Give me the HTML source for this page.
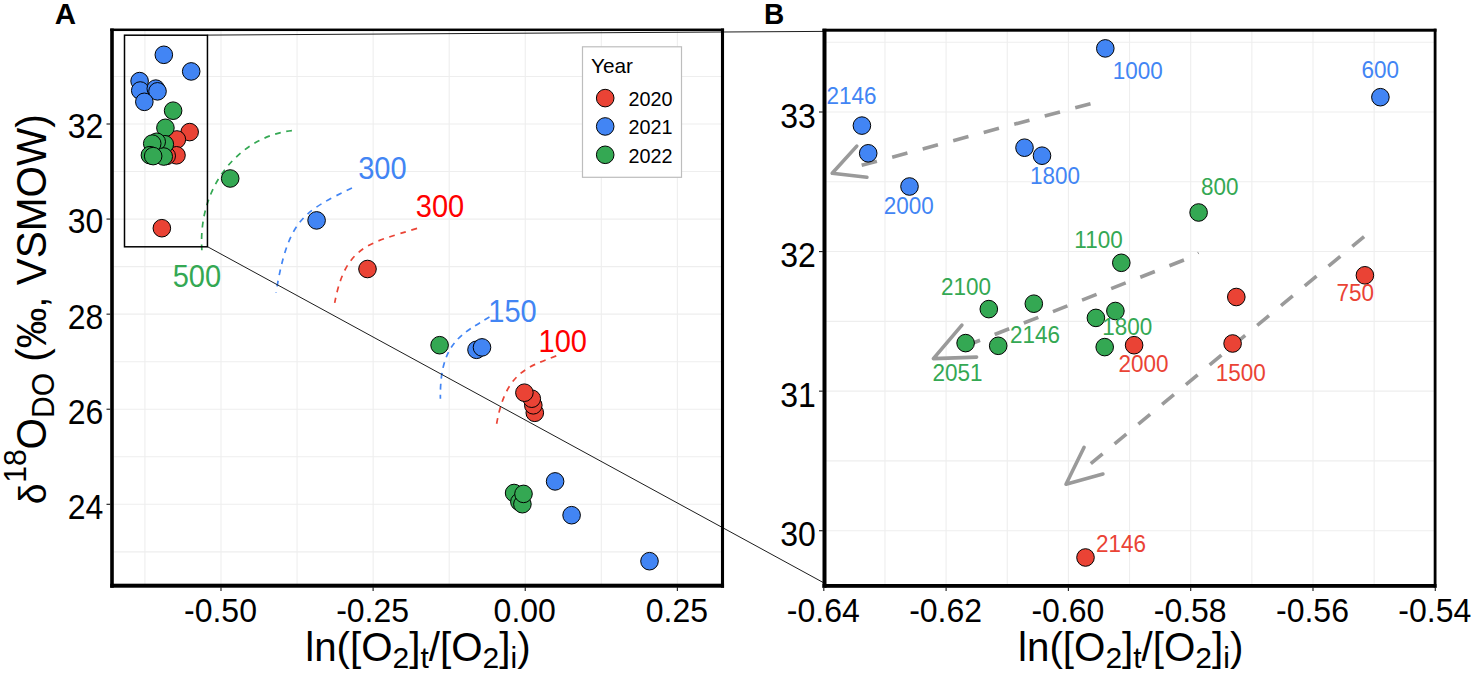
<!DOCTYPE html>
<html><head><meta charset="utf-8"><style>
html,body{margin:0;padding:0;background:#fff;width:1476px;height:673px;overflow:hidden}
svg{display:block}
</style></head><body>
<svg width="1476" height="673" viewBox="0 0 1476 673">
<rect width="1476" height="673" fill="#fff"/>
<g stroke="#EEEEEE" stroke-width="1.1"><line x1="144.94" y1="30" x2="144.94" y2="585.5"/><line x1="221.00" y1="30" x2="221.00" y2="585.5"/><line x1="297.06" y1="30" x2="297.06" y2="585.5"/><line x1="373.12" y1="30" x2="373.12" y2="585.5"/><line x1="449.19" y1="30" x2="449.19" y2="585.5"/><line x1="525.25" y1="30" x2="525.25" y2="585.5"/><line x1="601.31" y1="30" x2="601.31" y2="585.5"/><line x1="677.38" y1="30" x2="677.38" y2="585.5"/><line x1="112" y1="551.86" x2="722.5" y2="551.86"/><line x1="112" y1="504.32" x2="722.5" y2="504.32"/><line x1="112" y1="456.78" x2="722.5" y2="456.78"/><line x1="112" y1="409.24" x2="722.5" y2="409.24"/><line x1="112" y1="361.70" x2="722.5" y2="361.70"/><line x1="112" y1="314.16" x2="722.5" y2="314.16"/><line x1="112" y1="266.62" x2="722.5" y2="266.62"/><line x1="112" y1="219.08" x2="722.5" y2="219.08"/><line x1="112" y1="171.54" x2="722.5" y2="171.54"/><line x1="112" y1="124.00" x2="722.5" y2="124.00"/><line x1="112" y1="76.46" x2="722.5" y2="76.46"/></g>
<g stroke="#EEEEEE" stroke-width="1.1"><line x1="884.95" y1="30" x2="884.95" y2="585.5"/><line x1="946.10" y1="30" x2="946.10" y2="585.5"/><line x1="1007.25" y1="30" x2="1007.25" y2="585.5"/><line x1="1068.40" y1="30" x2="1068.40" y2="585.5"/><line x1="1129.55" y1="30" x2="1129.55" y2="585.5"/><line x1="1190.70" y1="30" x2="1190.70" y2="585.5"/><line x1="1251.85" y1="30" x2="1251.85" y2="585.5"/><line x1="1313.00" y1="30" x2="1313.00" y2="585.5"/><line x1="1374.15" y1="30" x2="1374.15" y2="585.5"/><line x1="824.5" y1="530.71" x2="1435" y2="530.71"/><line x1="824.5" y1="460.92" x2="1435" y2="460.92"/><line x1="824.5" y1="391.14" x2="1435" y2="391.14"/><line x1="824.5" y1="321.36" x2="1435" y2="321.36"/><line x1="824.5" y1="251.57" x2="1435" y2="251.57"/><line x1="824.5" y1="181.78" x2="1435" y2="181.78"/><line x1="824.5" y1="112.00" x2="1435" y2="112.00"/><line x1="824.5" y1="42.22" x2="1435" y2="42.22"/></g>
<path d="M291.90,130.60 C241.28,136.43 197.42,184.10 201.90,250.80" fill="none" stroke="#34A853" stroke-width="1.7" stroke-dasharray="5.8 5.60" stroke-dashoffset="0.07"/>
<path d="M352.40,187.80 C302.62,211.69 288.04,220.03 276.00,292.70" fill="none" stroke="#4285F4" stroke-width="1.7" stroke-dasharray="5.8 5.65" stroke-dashoffset="-0.48"/>
<path d="M417.40,228.30 C368.88,243.31 345.50,245.62 334.70,302.90" fill="none" stroke="#EA4335" stroke-width="1.7" stroke-dasharray="5.8 5.75" stroke-dashoffset="-0.34"/>
<path d="M489.60,316.90 C461.82,333.95 439.47,342.60 440.40,398.80" fill="none" stroke="#4285F4" stroke-width="1.7" stroke-dasharray="5.8 5.15" stroke-dashoffset="-0.17"/>
<path d="M556.70,355.70 C525.14,367.66 504.13,373.79 495.70,429.40" fill="none" stroke="#EA4335" stroke-width="1.7" stroke-dasharray="5.8 5.60" stroke-dashoffset="-0.44"/>
<g stroke="#111" stroke-width="0.95" fill="none">
<line x1="207.5" y1="35.1" x2="823" y2="31.4"/>
<line x1="207.7" y1="246.8" x2="823" y2="582.4"/>
</g>
<rect x="124.5" y="35.2" width="82.95" height="211.6" fill="none" stroke="#000" stroke-width="1.5"/>
<g stroke="#000" stroke-width="1"><circle cx="189.65" cy="132.08" r="8.8" fill="#EA4335"/><circle cx="176.86" cy="139.47" r="8.8" fill="#EA4335"/><circle cx="176.49" cy="155.31" r="8.8" fill="#EA4335"/><circle cx="166.69" cy="155.89" r="8.8" fill="#EA4335"/><circle cx="161.85" cy="228.21" r="8.8" fill="#EA4335"/><circle cx="367.50" cy="269.00" r="8.8" fill="#EA4335"/><circle cx="534.80" cy="412.80" r="8.8" fill="#EA4335"/><circle cx="533.30" cy="405.30" r="8.8" fill="#EA4335"/><circle cx="531.80" cy="398.70" r="8.8" fill="#EA4335"/><circle cx="524.40" cy="392.70" r="8.8" fill="#EA4335"/><circle cx="139.60" cy="81.09" r="8.8" fill="#4285F4"/><circle cx="140.23" cy="90.53" r="8.8" fill="#4285F4"/><circle cx="155.78" cy="88.62" r="8.8" fill="#4285F4"/><circle cx="157.52" cy="91.34" r="8.8" fill="#4285F4"/><circle cx="144.34" cy="101.84" r="8.8" fill="#4285F4"/><circle cx="163.82" cy="54.80" r="8.8" fill="#4285F4"/><circle cx="191.20" cy="71.42" r="8.8" fill="#4285F4"/><circle cx="316.60" cy="220.40" r="8.8" fill="#4285F4"/><circle cx="476.50" cy="349.80" r="8.8" fill="#4285F4"/><circle cx="482.00" cy="347.40" r="8.8" fill="#4285F4"/><circle cx="555.10" cy="481.40" r="8.8" fill="#4285F4"/><circle cx="571.60" cy="515.20" r="8.8" fill="#4285F4"/><circle cx="649.50" cy="561.20" r="8.8" fill="#4285F4"/><circle cx="173.11" cy="110.69" r="8.8" fill="#34A853"/><circle cx="165.41" cy="127.83" r="8.8" fill="#34A853"/><circle cx="162.89" cy="146.59" r="8.8" fill="#34A853"/><circle cx="164.83" cy="144.24" r="8.8" fill="#34A853"/><circle cx="156.71" cy="141.76" r="8.8" fill="#34A853"/><circle cx="152.23" cy="143.60" r="8.8" fill="#34A853"/><circle cx="163.76" cy="156.54" r="8.8" fill="#34A853"/><circle cx="149.92" cy="155.18" r="8.8" fill="#34A853"/><circle cx="153.16" cy="156.10" r="8.8" fill="#34A853"/><circle cx="230.20" cy="178.50" r="8.8" fill="#34A853"/><circle cx="439.60" cy="345.20" r="8.8" fill="#34A853"/><circle cx="514.10" cy="493.00" r="8.8" fill="#34A853"/><circle cx="519.40" cy="501.90" r="8.8" fill="#34A853"/><circle cx="522.40" cy="504.20" r="8.8" fill="#34A853"/><circle cx="523.50" cy="493.90" r="8.8" fill="#34A853"/></g>
<g stroke="#9A9A9A" stroke-width="3.6" fill="none"><path d="M1090.50,103.70L1075.24,107.81M1059.99,111.92L1044.73,116.03M1029.48,120.14L1014.22,124.25M998.96,128.36L983.71,132.48M968.45,136.59L953.20,140.70M937.94,144.81L922.69,148.92M907.43,153.03L892.17,157.14M876.92,161.25L861.66,165.36" stroke-linecap="butt"/><path d="M856.8,146.1 L832.2,173.3 L866.9,177.3" fill="none" stroke-linecap="round" stroke-linejoin="round"/><path d="M1183.95,260.03L1169.43,265.74M1154.82,271.49L1140.30,277.20M1125.69,282.95L1111.18,288.66M1096.57,294.41L1082.05,300.12M1067.44,305.87L1052.92,311.58M1038.31,317.32L1023.80,323.04M1009.19,328.78L994.67,334.49M980.06,340.24L965.54,345.95" stroke-linecap="butt"/><path d="M1197.6,251.9 L1198.8,254.1" stroke-width="1"/><path d="M961.9,325.2 L933.4,358.6 L976.6,357.1" fill="none" stroke-linecap="round" stroke-linejoin="round"/><path d="M1364.08,236.71L1352.31,246.48M1340.31,256.45L1328.54,266.22M1316.54,276.19L1304.77,285.96M1292.76,295.93L1280.99,305.70M1268.99,315.67L1257.22,325.44M1245.22,335.40L1233.44,345.18M1221.44,355.14L1209.67,364.92M1197.67,374.88L1185.90,384.65M1173.89,394.62L1162.12,404.39M1150.12,414.36L1138.35,424.13M1126.35,434.10L1114.57,443.87M1102.57,453.84L1090.80,463.61" stroke-linecap="butt"/><path d="M1084.1,447.3 L1066,484.2 L1102.9,474.1" fill="none" stroke-linecap="round" stroke-linejoin="round"/></g>
<g stroke="#000" stroke-width="1"><circle cx="1364.90" cy="275.30" r="8.8" fill="#EA4335"/><circle cx="1236.30" cy="297.00" r="8.8" fill="#EA4335"/><circle cx="1232.60" cy="343.50" r="8.8" fill="#EA4335"/><circle cx="1134.10" cy="345.20" r="8.8" fill="#EA4335"/><circle cx="1085.50" cy="557.50" r="8.8" fill="#EA4335"/><circle cx="861.90" cy="125.60" r="8.8" fill="#4285F4"/><circle cx="868.20" cy="153.30" r="8.8" fill="#4285F4"/><circle cx="1024.50" cy="147.70" r="8.8" fill="#4285F4"/><circle cx="1042.00" cy="155.70" r="8.8" fill="#4285F4"/><circle cx="909.50" cy="186.50" r="8.8" fill="#4285F4"/><circle cx="1105.30" cy="48.40" r="8.8" fill="#4285F4"/><circle cx="1380.40" cy="97.20" r="8.8" fill="#4285F4"/><circle cx="1198.60" cy="212.50" r="8.8" fill="#34A853"/><circle cx="1121.30" cy="262.80" r="8.8" fill="#34A853"/><circle cx="988.80" cy="309.10" r="8.8" fill="#34A853"/><circle cx="1033.80" cy="303.70" r="8.8" fill="#34A853"/><circle cx="1095.90" cy="317.90" r="8.8" fill="#34A853"/><circle cx="1115.40" cy="311.00" r="8.8" fill="#34A853"/><circle cx="965.60" cy="343.10" r="8.8" fill="#34A853"/><circle cx="998.20" cy="345.80" r="8.8" fill="#34A853"/><circle cx="1104.70" cy="347.10" r="8.8" fill="#34A853"/></g>
<g fill="#000"><rect x="110.2" y="28.5" width="3.60" height="559.20"/><rect x="110.2" y="28.55" width="613.85" height="2.50"/><rect x="720.95" y="28.5" width="3.10" height="559.20"/><rect x="110.2" y="583.7" width="613.85" height="4.00"/><rect x="822.5" y="28.7" width="4.00" height="559.10"/><rect x="822.5" y="28.7" width="614.00" height="3.00"/><rect x="1433.7" y="28.7" width="2.80" height="559.10"/><rect x="822.5" y="584" width="614.00" height="3.80"/></g>
<g stroke="#222" stroke-width="1.15"><line x1="221.00" y1="587" x2="221.00" y2="591"/><line x1="373.12" y1="587" x2="373.12" y2="591"/><line x1="525.25" y1="587" x2="525.25" y2="591"/><line x1="677.38" y1="587" x2="677.38" y2="591"/><line x1="106.5" y1="504.32" x2="110.5" y2="504.32"/><line x1="106.5" y1="409.24" x2="110.5" y2="409.24"/><line x1="106.5" y1="314.16" x2="110.5" y2="314.16"/><line x1="106.5" y1="219.08" x2="110.5" y2="219.08"/><line x1="106.5" y1="124.00" x2="110.5" y2="124.00"/><line x1="823.80" y1="587" x2="823.80" y2="591"/><line x1="946.10" y1="587" x2="946.10" y2="591"/><line x1="1068.40" y1="587" x2="1068.40" y2="591"/><line x1="1190.70" y1="587" x2="1190.70" y2="591"/><line x1="1313.00" y1="587" x2="1313.00" y2="591"/><line x1="1435.30" y1="587" x2="1435.30" y2="591"/><line x1="819" y1="530.71" x2="823" y2="530.71"/><line x1="819" y1="391.14" x2="823" y2="391.14"/><line x1="819" y1="251.57" x2="823" y2="251.57"/><line x1="819" y1="112.00" x2="823" y2="112.00"/></g>
<g font-family="Liberation Sans, sans-serif" font-size="32" fill="#000"><text transform="translate(220.50,622.00) scale(1,1.06)" text-anchor="middle">-0.50</text><text transform="translate(372.62,622.00) scale(1,1.06)" text-anchor="middle">-0.25</text><text transform="translate(524.75,622.00) scale(1,1.06)" text-anchor="middle">0.00</text><text transform="translate(676.88,622.00) scale(1,1.06)" text-anchor="middle">0.25</text><text transform="translate(103.30,518.72) scale(1,1.08)" text-anchor="end">24</text><text transform="translate(103.30,423.64) scale(1,1.08)" text-anchor="end">26</text><text transform="translate(103.30,328.56) scale(1,1.08)" text-anchor="end">28</text><text transform="translate(103.30,233.48) scale(1,1.08)" text-anchor="end">30</text><text transform="translate(103.30,138.40) scale(1,1.08)" text-anchor="end">32</text><text transform="translate(823.30,622.00) scale(1,1.06)" text-anchor="middle">-0.64</text><text transform="translate(945.60,622.00) scale(1,1.06)" text-anchor="middle">-0.62</text><text transform="translate(1067.90,622.00) scale(1,1.06)" text-anchor="middle">-0.60</text><text transform="translate(1190.20,622.00) scale(1,1.06)" text-anchor="middle">-0.58</text><text transform="translate(1312.50,622.00) scale(1,1.06)" text-anchor="middle">-0.56</text><text transform="translate(1434.80,622.00) scale(1,1.06)" text-anchor="middle">-0.54</text><text transform="translate(815.80,546.41) scale(1,1.08)" text-anchor="end">30</text><text transform="translate(815.80,406.84) scale(1,1.08)" text-anchor="end">31</text><text transform="translate(815.80,267.27) scale(1,1.08)" text-anchor="end">32</text><text transform="translate(815.80,127.70) scale(1,1.08)" text-anchor="end">33</text></g>
<g font-family="Liberation Sans, sans-serif" fill="#000"><text x="417.9" y="661" text-anchor="middle" font-size="40.3">ln([O<tspan font-size="30" dy="7">2</tspan><tspan dy="-7">]</tspan><tspan font-size="30" dy="7">t</tspan><tspan dy="-7">/[O</tspan><tspan font-size="30" dy="7">2</tspan><tspan dy="-7">]</tspan><tspan font-size="30" dy="7">i</tspan><tspan dy="-7">)</tspan></text><text x="1130.7" y="661" text-anchor="middle" font-size="40.3">ln([O<tspan font-size="30" dy="7">2</tspan><tspan dy="-7">]</tspan><tspan font-size="30" dy="7">t</tspan><tspan dy="-7">/[O</tspan><tspan font-size="30" dy="7">2</tspan><tspan dy="-7">]</tspan><tspan font-size="30" dy="7">i</tspan><tspan dy="-7">)</tspan></text></g>
<g font-family="Liberation Sans, sans-serif" fill="#000"><text transform="translate(46.4,309.2) rotate(-90) scale(1,1.05)" text-anchor="middle" font-size="40.5"><tspan font-size="37.5">δ</tspan><tspan font-size="30" dy="-19" dx="0.5">18</tspan><tspan dy="19">O</tspan><tspan font-size="30" dy="7">DO</tspan><tspan dy="-7"> (‰, VSMOW)</tspan></text></g>
<g font-family="Liberation Sans, sans-serif" font-weight="bold" font-size="29.5" fill="#000"><text x="54.8" y="24">A</text><text transform="translate(763.9,24) scale(0.95,1)">B</text></g>
<g font-family="Liberation Sans, sans-serif" font-size="29.05"><text transform="translate(221.10,286.60) scale(1,1.06)" text-anchor="end" fill="#34A853">500</text><text transform="translate(358.20,178.60) scale(1,1.06)" fill="#4285F4">300</text><text transform="translate(415.80,217.00) scale(1,1.06)" fill="#FF0000">300</text><text transform="translate(488.30,322.00) scale(1,1.06)" fill="#4285F4">150</text><text transform="translate(538.50,351.60) scale(1,1.06)" fill="#FF0000">100</text></g>
<g font-family="Liberation Sans, sans-serif" font-size="22.5"><text transform="translate(826.50,104.40) scale(1,1.035)" fill="#4285F4">2146</text><text transform="translate(883.80,213.60) scale(1,1.035)" fill="#4285F4">2000</text><text transform="translate(1030.00,184.10) scale(1,1.035)" fill="#4285F4">1800</text><text transform="translate(1112.70,79.10) scale(1,1.035)" fill="#4285F4">1000</text><text transform="translate(1361.60,78.20) scale(1,1.035)" fill="#4285F4">600</text><text transform="translate(1201.10,195.30) scale(1,1.035)" fill="#34A853">800</text><text transform="translate(1074.30,248.20) scale(1,1.035)" fill="#34A853">1100</text><text transform="translate(941.00,295.00) scale(1,1.035)" fill="#34A853">2100</text><text transform="translate(1010.00,342.60) scale(1,1.035)" fill="#34A853">2146</text><text transform="translate(1102.30,334.60) scale(1,1.035)" fill="#34A853">1800</text><text transform="translate(932.40,381.20) scale(1,1.035)" fill="#34A853">2051</text><text transform="translate(1118.40,371.80) scale(1,1.035)" fill="#EA4335">2000</text><text transform="translate(1336.40,301.20) scale(1,1.035)" fill="#EA4335">750</text><text transform="translate(1215.80,381.10) scale(1,1.035)" fill="#EA4335">1500</text><text transform="translate(1095.90,551.60) scale(1,1.035)" fill="#EA4335">2146</text></g>
<g font-family="Liberation Sans, sans-serif"><rect x="582.5" y="46.8" width="99" height="130.5" fill="#fff" stroke="#BDBDBD" stroke-width="1.2"/><text x="591" y="72.9" font-size="20.8">Year</text><circle cx="605.2" cy="98.10" r="8.8" fill="#EA4335" stroke="#000" stroke-width="1"/><text x="628.6" y="105.90" font-size="19.8">2020</text><circle cx="605.2" cy="126.45" r="8.8" fill="#4285F4" stroke="#000" stroke-width="1"/><text x="628.6" y="134.25" font-size="19.8">2021</text><circle cx="605.2" cy="154.80" r="8.8" fill="#34A853" stroke="#000" stroke-width="1"/><text x="628.6" y="162.60" font-size="19.8">2022</text></g>
</svg></body></html>
